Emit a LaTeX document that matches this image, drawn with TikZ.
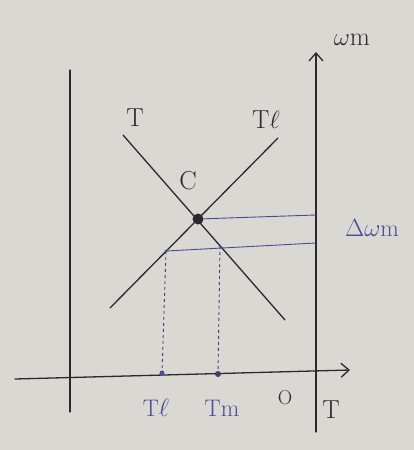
\documentclass[tikz,border=0pt]{standalone}
\usetikzlibrary{arrows.meta}
\definecolor{paper}{HTML}{DAD8D3}
\definecolor{ink}{HTML}{2A2A2E}
\definecolor{blueink}{HTML}{4A4A9A}
\begin{document}
\begin{tikzpicture}[x=1pt,y=-1pt,
  pen/.style={draw=ink, line width=1.3pt, line cap=round},
  bpen/.style={draw=blueink, line width=0.9pt},
  dashpen/.style={draw=blueink!70!ink, line width=0.9pt, dashed},
  lab/.style={text=ink, font=\fontsize{26}{28}\selectfont, inner sep=1pt},
  blab/.style={text=blueink, font=\fontsize{24}{26}\selectfont, inner sep=1pt},
  axarrow/.style={-{Straight Barb[length=8pt,width=14pt]}}]
\fill[paper] (0,0) rectangle (414,450);
\useasboundingbox (0,0) rectangle (414,450);
% coordinates
\coordinate (leftTop) at (70,70);
\coordinate (leftBot) at (70,412);
\coordinate (axBot) at (316,432);
\coordinate (axTop) at (316,52);
\coordinate (hxL) at (15,379);
\coordinate (hxR) at (350,370);
\coordinate (Ts) at (123,135);
\coordinate (Te) at (285,320);
\coordinate (TLs) at (110,308);
\coordinate (TLe) at (278,138);
\coordinate (P1) at (166,251);
\coordinate (P2) at (220,246);
\coordinate (Q1) at (316,215);
\coordinate (Q2) at (316,243);
\coordinate (D1) at (162,373);
\coordinate (D2) at (218,374);
% lines
\draw[pen] (leftTop) -- (leftBot);
\draw[pen, axarrow] (axBot) -- (axTop);
\draw[pen, axarrow] (hxL) -- (hxR);
\draw[pen] (Ts) -- (Te);
\draw[pen] (TLs) -- (TLe);
\node[circle, fill=ink, minimum size=11pt, inner sep=0pt] (C) at (198,219) {};
\draw[bpen] (C) -- (Q1);
\draw[bpen] (P1) -- (Q2);
\draw[dashpen] (P1) -- (D1);
\draw[dashpen] (P2) -- (D2);
\node[circle, fill=blueink, minimum size=5pt, inner sep=0pt] (d1) at (D1) {};
\node[circle, fill=blueink!60!ink, minimum size=6pt, inner sep=0pt] (d2) at (D2) {};
\node[circle, fill=blueink, minimum size=3pt, inner sep=0pt] (p1) at (P1) {};
\node[circle, fill=blueink, minimum size=3pt, inner sep=0pt] (p2) at (P2) {};
% labels
\node[lab] (lT) at (135,118) {T};
\node[lab] (lTl) at (266,120) {T$\ell$};
\node[lab] (lC) at (188,181) {C};
\node[lab] (lwm) at (352,40) {$\omega$m};
\node[blab] (ldw) at (372,228) {$\Delta\omega$m};
\node[blab] (lTl2) at (156,408) {T$\ell$};
\node[blab] (lTm) at (222,408) {Tm};
\node[lab, font=\fontsize{20}{22}\selectfont] (lO) at (285,398) {O};
\node[lab] (lTax) at (331,410) {T};
\end{tikzpicture}
\end{document}
